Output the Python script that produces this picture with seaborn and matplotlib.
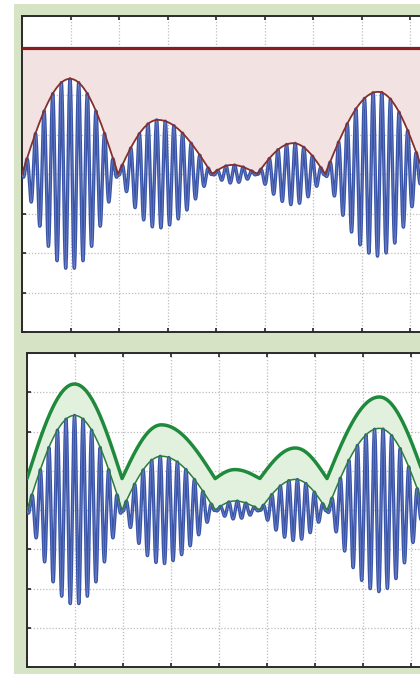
import numpy as np
import pandas as pd
import matplotlib
matplotlib.use("Agg")
import matplotlib.pyplot as plt
import seaborn as sns
from matplotlib.patches import Rectangle

# ---- data (axis units: one grid cell = 1) ----
env_zeros = [0.0, 1.98, 3.92, 4.85, 6.25, 8.29]      # where the envelope touches the baseline
env_peak_x = [0.99, 2.80, 4.33, 5.59, 7.34]          # position of each envelope bump maximum
env_peak_h = [2.41, 1.37, 0.23, 0.78, 2.08]          # height of each bump above the baseline
baseline = 4.0                                       # signal mid level
ceiling_level = 7.2                                  # horizontal line in the top panel
envelope_offset = 0.8                                # shift of the thick green envelope
carrier_cycles_per_unit = 5.6                        # carrier frequency

sns.set_style("white")
plt.rcParams['font.family'] = ['DejaVu Sans']

t = np.linspace(0, 9, 6000)
env = np.zeros_like(t)
for i, (xp, h) in enumerate(zip(env_peak_x, env_peak_h)):
    z0, z1 = env_zeros[i], env_zeros[i + 1]
    m1 = (t >= z0) & (t <= xp)
    env[m1] = h * np.sin(np.pi / 2 * (t[m1] - z0) / (xp - z0))
    m2 = (t > xp) & (t <= z1)
    env[m2] = h * np.cos(np.pi / 2 * (t[m2] - xp) / (z1 - xp))

signal = baseline + env * np.cos(2 * np.pi * carrier_cycles_per_unit * (t - env_peak_x[0]))
df = pd.DataFrame({"t": t, "signal": signal, "env": baseline + env,
                   "env_up": baseline + env + envelope_offset})

W, H = 420, 674
fig = plt.figure(figsize=(W / 100, H / 100), dpi=100)
fig.patch.set_facecolor("white")
fig.patches.append(Rectangle((14 / W, 0), 1, 1 - 4 / H, transform=fig.transFigure,
                             facecolor="#d6e3c4", edgecolor="none", zorder=-10))

ax1 = fig.add_axes([22 / W, (H - 332) / H, 436.5 / W, 316 / H])
ax2 = fig.add_axes([27 / W, (H - 667) / H, 432 / W, 314 / H])

blue_dark = "#3a55a8"
blue_light = "#8a9ad8"

for ax in (ax1, ax2):
    ax.set_facecolor("white")
    ax.set_xlim(0, 9)
    ax.set_ylim(0, 8)
    ax.set_xticks(np.arange(0, 10, 1))
    ax.set_yticks(np.arange(0, 9, 1))
    ax.set_xticklabels([])
    ax.set_yticklabels([])
    ax.tick_params(direction="in", length=3, width=1.2, color="#222222",
                   top=True, right=True, bottom=True, left=True)
    ax.grid(True, linestyle=(0, (1, 1.5)), color="#bdbdbd", linewidth=0.9)
    ax.set_axisbelow(True)
    for s in ax.spines.values():
        s.set_color("#2a2a2a")
        s.set_linewidth(1.4)

# top panel
ax1.fill_between(df["t"], df["env"], ceiling_level, color="#f3e2e2", zorder=1)
sns.lineplot(data=df, x="t", y="signal", ax=ax1, color=blue_dark, linewidth=2.4,
             sort=False, estimator=None, zorder=3)
sns.lineplot(data=df, x="t", y="signal", ax=ax1, color=blue_light, linewidth=0.4,
             alpha=0.8, sort=False, estimator=None, zorder=4)
sns.lineplot(data=df, x="t", y="env", ax=ax1, color="#84302c", linewidth=1.3,
             sort=False, estimator=None, zorder=5)
ax1.axhline(ceiling_level, color="#8b1c1c", linewidth=2.3, zorder=6)

# bottom panel
ax2.fill_between(df["t"], df["env"], df["env_up"], color="#e2f1dd", zorder=1)
sns.lineplot(data=df, x="t", y="signal", ax=ax2, color=blue_dark, linewidth=2.4,
             sort=False, estimator=None, zorder=3)
sns.lineplot(data=df, x="t", y="signal", ax=ax2, color=blue_light, linewidth=0.4,
             alpha=0.8, sort=False, estimator=None, zorder=4)
sns.lineplot(data=df, x="t", y="env", ax=ax2, color="#2b7d3e", linewidth=1.1,
             sort=False, estimator=None, zorder=5)
sns.lineplot(data=df, x="t", y="env_up", ax=ax2, color="#1f8a3c", linewidth=2.5,
             sort=False, estimator=None, zorder=6)

for ax in (ax1, ax2):
    ax.set_xlabel("")
    ax.set_ylabel("")
    ax.set_xlim(0, 9)
    ax.set_ylim(0, 8)

fig.savefig("out.png", dpi=100, facecolor=fig.get_facecolor())
